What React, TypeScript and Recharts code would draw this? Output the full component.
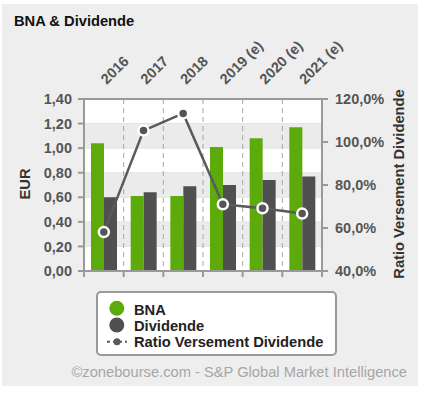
import React from 'react';
import { ComposedChart, Bar, Line, XAxis, YAxis, CartesianGrid } from 'recharts';

const categories = ['2016', '2017', '2018', '2019 (e)', '2020 (e)', '2021 (e)'];
const bnaValues = [1.04, 0.61, 0.61, 1.01, 1.08, 1.17];
const dividendeValues = [0.6, 0.64, 0.69, 0.7, 0.74, 0.77];
const ratioValues = [58.1, 105.3, 113.3, 71.0, 69.2, 66.7];
const leftTicks = [0, 0.2, 0.4, 0.6, 0.8, 1.0, 1.2, 1.4];
const rightTicks = [40, 60, 80, 100, 120];
const seriesNames = ['BNA', 'Dividende', 'Ratio Versement Dividende'];

const GREEN = '#5cab0b';
const DARK = '#505050';
const LINE = '#5a5a5a';
const AXIS = '#999999';
const FONT = '"Liberation Sans", Arial, sans-serif';

const data = categories.map((c, i) => ({
  year: c,
  bna: bnaValues[i],
  div: dividendeValues[i],
  ratio: ratioValues[i],
}));

const fmtLeft = (v: number) => v.toFixed(2).replace('.', ',');
const fmtRight = (v: number) => v.toFixed(1).replace('.', ',') + '%';

const TopTick = (props: any) => {
  const { x, y, payload } = props;
  const tx = x + 3;
  const ty = y;
  return (
    <text
      x={tx}
      y={ty}
      transform={`rotate(-45 ${tx} ${ty})`}
      textAnchor="start"
      fill="#555"
      fontSize={14.5}
      fontWeight="bold"
      fontFamily={FONT}
    >
      {payload.value}
    </text>
  );
};

const BottomTick = (props: any) => {
  const { x, y, payload, index, width } = props;
  const half = payload && payload.offset ? payload.offset : width / (categories.length * 2);
  const lines = [x + half];
  if (index === 0) lines.push(x - half);
  return (
    <g>
      {lines.map((lx, i) => (
        <line key={i} x1={lx} x2={lx} y1={y - 1} y2={y + 6} stroke={AXIS} strokeWidth={2} />
      ))}
    </g>
  );
};

const LeftTitle = (props: any) => {
  const { x, y, height } = props.viewBox;
  const cx = x + 22.5;
  const cy = y + height / 2 - 1;
  return (
    <text
      x={cx}
      y={cy}
      transform={`rotate(-90 ${cx} ${cy})`}
      textAnchor="middle"
      dominantBaseline="central"
      fill="#333"
      fontSize={14.7}
      fontWeight="bold"
      fontFamily={FONT}
    >
      EUR
    </text>
  );
};

const RightTitle = (props: any) => {
  const { x, y, height } = props.viewBox;
  const cx = x + 76.7;
  const cy = y + height / 2 - 1;
  return (
    <text
      x={cx}
      y={cy}
      transform={`rotate(-90 ${cx} ${cy})`}
      textAnchor="middle"
      dominantBaseline="central"
      fill="#333"
      fontSize={14.7}
      fontWeight="bold"
      fontFamily={FONT}
    >
      Ratio Versement Dividende
    </text>
  );
};

export default function App() {
  return (
    <div
      style={{
        position: 'absolute',
        left: 2,
        top: 4,
        width: 416,
        height: 382,
        background: '#eeeeee',
        fontFamily: FONT,
      }}
    >
      <ComposedChart
        width={416}
        height={382}
        data={data}
        margin={{ top: 65, right: 0, bottom: 105, left: 0 }}
        barGap={0}
      >
        <CartesianGrid
          xAxisId="top"
          yAxisId="left"
          vertical={false}
          horizontalFill={['#ffffff', '#ebebeb']}
          stroke="#e2e2e2"
        />
        <CartesianGrid
          xAxisId="top"
          yAxisId="left"
          horizontal={false}
          stroke="#a8a8a8"
          strokeDasharray="5 4"
          verticalCoordinatesGenerator={({ offset }: any) =>
            categories.slice(1).map((_, i) => offset.left + ((i + 1) * offset.width) / categories.length)
          }
        />
        <XAxis
          xAxisId="top"
          dataKey="year"
          orientation="top"
          height={30}
          axisLine={{ stroke: AXIS, strokeWidth: 2 }}
          tickLine={false}
          tickSize={0}
          tickMargin={14}
          tick={<TopTick />}
          interval={0}
        />
        <XAxis
          xAxisId="bottom"
          dataKey="year"
          orientation="bottom"
          height={10}
          axisLine={{ stroke: AXIS, strokeWidth: 2 }}
          tickLine={false}
          tickSize={0}
          tickMargin={0}
          tick={<BottomTick />}
          interval={0}
        />
        <YAxis
          yAxisId="left"
          width={82}
          domain={[0, 1.4]}
          ticks={leftTicks}
          tickFormatter={fmtLeft}
          axisLine={{ stroke: AXIS, strokeWidth: 2 }}
          tickLine={{ stroke: AXIS, strokeWidth: 2 }}
          tickSize={6}
          tickMargin={6}
          tick={{ fill: '#555', fontSize: 14.5, fontWeight: 'bold', fontFamily: FONT }}
          interval={0}
          label={<LeftTitle />}
        />
        <YAxis
          yAxisId="right"
          orientation="right"
          width={96}
          domain={[40, 120]}
          ticks={rightTicks}
          tickFormatter={fmtRight}
          axisLine={{ stroke: AXIS, strokeWidth: 2 }}
          tickLine={{ stroke: AXIS, strokeWidth: 2 }}
          tickSize={6}
          tickMargin={7}
          tick={{ fill: '#555', fontSize: 14.5, fontWeight: 'bold', fontFamily: FONT }}
          interval={0}
          label={<RightTitle />}
        />
        <Bar xAxisId="top" yAxisId="left" dataKey="bna" name={seriesNames[0]} fill={GREEN} barSize={13} isAnimationActive={false} />
        <Bar xAxisId="top" yAxisId="left" dataKey="div" name={seriesNames[1]} fill={DARK} barSize={13} isAnimationActive={false} />
        <Line
          xAxisId="top"
          yAxisId="right"
          type="linear"
          dataKey="ratio"
          name={seriesNames[2]}
          stroke={LINE}
          strokeWidth={2.5}
          dot={{ r: 5, fill: '#555', stroke: '#ffffff', strokeWidth: 2.5 }}
          isAnimationActive={false}
        />
      </ComposedChart>
      <svg
        width={416}
        height={382}
        style={{ position: 'absolute', left: 0, top: 0, pointerEvents: 'none' }}
      >
        <text x={12} y={22} fontSize={14.7} fontWeight="bold" fill="#111" fontFamily={FONT}>
          BNA &amp; Dividende
        </text>
        <rect x={95} y={288} width={239} height={63} rx={4} fill="#ffffff" stroke={AXIS} strokeWidth={2} />
        <circle cx={114.8} cy={304.3} r={7.5} fill={GREEN} />
        <text x={132} y={311} fontSize={14.7} fontWeight="bold" fill="#222" fontFamily={FONT}>
          {seriesNames[0]}
        </text>
        <circle cx={114.8} cy={321} r={7.5} fill={DARK} />
        <text x={132} y={326.8} fontSize={14.7} fontWeight="bold" fill="#222" fontFamily={FONT}>
          {seriesNames[1]}
        </text>
        <line x1={105} x2={125} y1={337.7} y2={337.7} stroke={LINE} strokeWidth={2} strokeDasharray="3 3" />
        <circle cx={115} cy={337.7} r={3.5} fill={LINE} />
        <text x={132} y={342.7} fontSize={14.7} fontWeight="bold" fill="#222" fontFamily={FONT}>
          {seriesNames[2]}
        </text>
        <text x={405} y={373} textAnchor="end" fontSize={14.7} fill="#a6a6a6" fontFamily={FONT}>
          ©zonebourse.com - S&amp;P Global Market Intelligence
        </text>
      </svg>
    </div>
  );
}
